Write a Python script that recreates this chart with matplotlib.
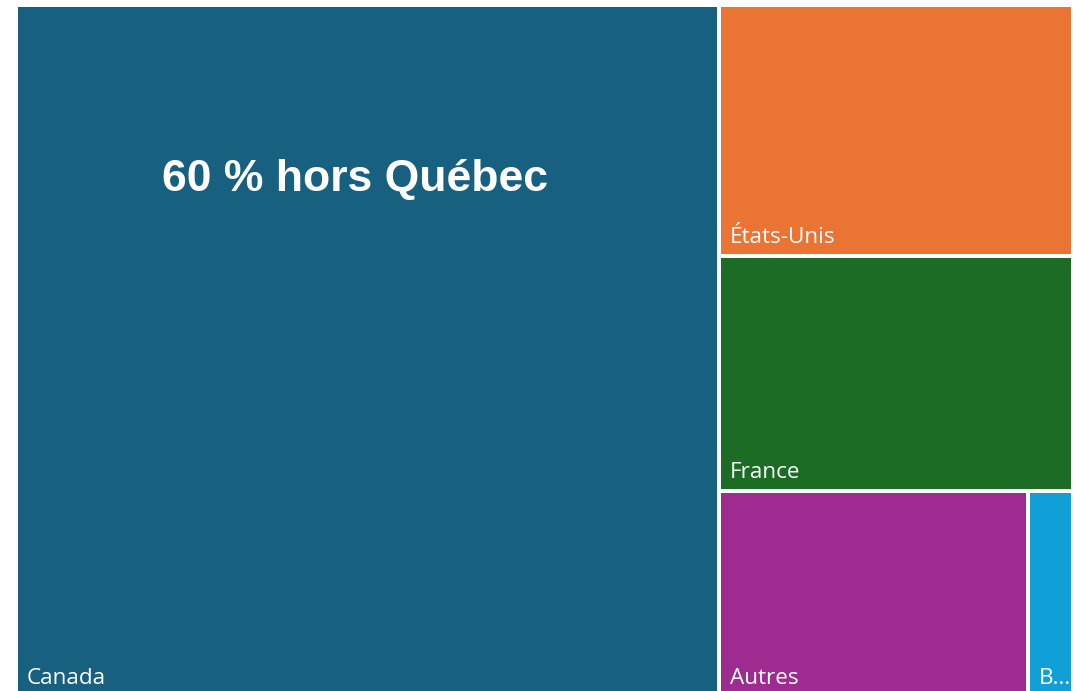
import matplotlib.pyplot as plt
from matplotlib.patches import Rectangle

plt.ioff()

# share of each region (%)
labels = ['Canada', 'États-Unis', 'France', 'Autres', 'B...']
values = [66.5, 12.14, 11.41, 8.69, 1.26]
colors = ['#17607F', '#E97433', '#1C6C26', '#9E2B8F', '#109FD6']
title_txt = '60 % hors Québec'


def layout(vals, x0, y0, w, h):
    # canada: full-height column, rest stacked, last two side by side
    tot = sum(vals)
    cw = w * vals[0] / tot
    rects = [(x0, y0, cw, h)]
    rx, rw = x0 + cw, w - cw
    rest = sum(vals[1:])
    y = y0
    for v in vals[1:3]:
        hh = h * v / rest
        rects.append((rx, y, rw, hh))
        y += hh
    bh = h - (y - y0)
    bot = sum(vals[3:])
    x = rx
    for v in vals[3:]:
        ww = rw * v / bot
        rects.append((x, y, ww, bh))
        x += ww
    return rects


def main():
    W, H = 1073, 691
    dpi = 100
    fig = plt.figure(figsize=(W / dpi, H / dpi), dpi=dpi)

    # pixel coordinates, 2px half-gap around each tile
    ax_x0, ax_y0, ax_w, ax_h = 16, 5, 1057, 692
    ax = fig.add_axes([ax_x0 / W, 1 - (ax_y0 + ax_h) / H, ax_w / W, ax_h / H])
    ax.set_xlim(0, ax_w)
    ax.set_ylim(ax_h, 0)
    ax.axis('off')

    g = 2
    rects = layout(values, 0, 0, ax_w, ax_h)
    for (x, y, w, h), lab, col in zip(rects, labels, colors):
        ax.add_patch(Rectangle((x + g, y + g), w - 2 * g, h - 2 * g,
                               facecolor=col, edgecolor='none'))
        ax.text(x + g + 9, y + h - g - 11, lab, color='white',
                fontsize=16.2, family='Open Sans', ha='left', va='baseline')

    cx, cy, cw, ch = rects[0]
    ax.text(cx + g + cw * 0.48, cy + ch * 0.252, title_txt, color='white',
            fontsize=32, fontweight='bold', family='Liberation Sans',
            ha='center', va='center')

    plt.savefig('out.png', dpi=dpi)
    plt.close()
    return


if __name__ == '__main__':
    main()
